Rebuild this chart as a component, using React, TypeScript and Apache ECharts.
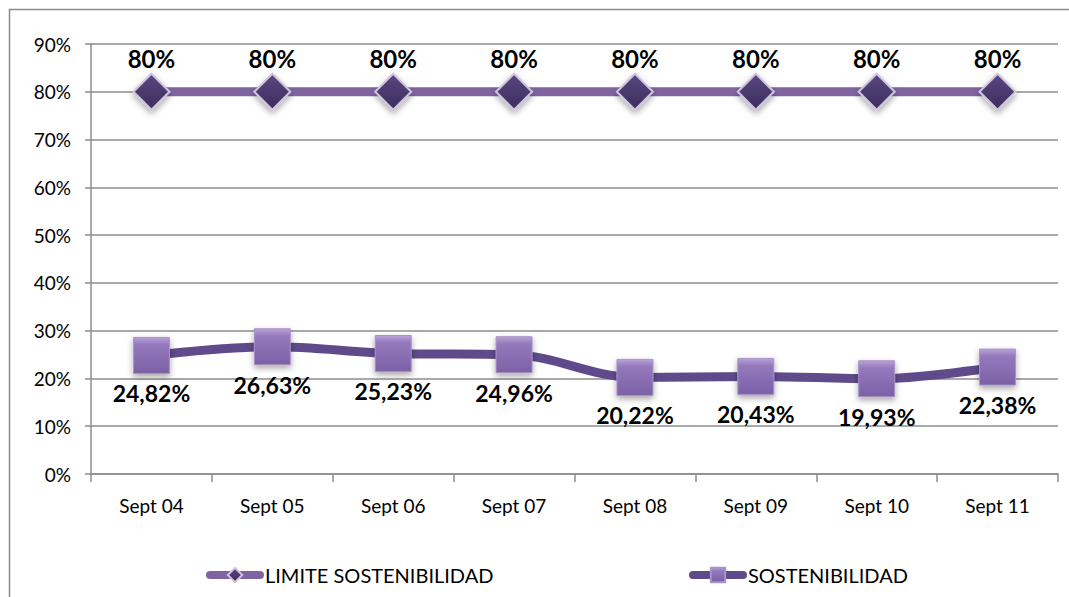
import React, { useEffect, useRef } from "react";
import * as echarts from "echarts";

const categories = ["Sept 04", "Sept 05", "Sept 06", "Sept 07", "Sept 08", "Sept 09", "Sept 10", "Sept 11"];
const limiteValues = [80, 80, 80, 80, 80, 80, 80, 80];
const sostenibilidadValues = [24.82, 26.63, 25.23, 24.96, 20.22, 20.43, 19.93, 22.38];
const yTicks = [0, 10, 20, 30, 40, 50, 60, 70, 80, 90];

const FONT = "Lato, 'Open Sans', sans-serif";

const fmt = (v: number) => {
  const s = Number.isInteger(v) ? String(v) : v.toFixed(2).replace(".", ",");
  return s + "%";
};

export default function App() {
  const ref = useRef<HTMLDivElement>(null);
  useEffect(() => {
    if (!ref.current) return;
    const chart = echarts.init(ref.current, undefined, { renderer: "svg" });
    chart.setOption({
      animation: false,
      backgroundColor: "#ffffff",
      graphic: [
        {
          type: "rect",
          shape: { x: 9.5, y: 9.5, width: 1200, height: 800 },
          style: { fill: "none", stroke: "#8c8c8c", lineWidth: 1.5 },
          silent: true,
          z: -10,
        },
      ],
      grid: { left: 91, right: 11, top: 44, bottom: 123, containLabel: false },
      xAxis: {
        type: "category",
        data: categories,
        boundaryGap: true,
        axisLine: { show: true, lineStyle: { color: "#8c8c8c", width: 1.5 } },
        axisTick: { show: true, length: 8, alignWithLabel: false, lineStyle: { color: "#8c8c8c", width: 1.5 } },
        axisLabel: { color: "#000", fontSize: 19, fontFamily: FONT, margin: 22 },
      },
      yAxis: {
        type: "value",
        min: yTicks[0],
        max: yTicks[yTicks.length - 1],
        interval: 10,
        axisLine: { show: true, lineStyle: { color: "#8c8c8c", width: 1.5 } },
        axisTick: { show: true, length: 6, inside: false, lineStyle: { color: "#8c8c8c", width: 1.5 } },
        axisLabel: { color: "#000", fontSize: 19, fontFamily: FONT, margin: 20, formatter: "{value}%" },
        splitLine: { show: true, lineStyle: { color: "#8c8c8c", width: 1.5 } },
      },
      legend: [
        {
          data: ["LIMITE SOSTENIBILIDAD"],
          left: 201,
          top: 560,
          itemWidth: 50,
          itemHeight: 18,
          itemGap: 4,
          lineStyle: { width: 8, cap: "round" },
          textStyle: { color: "#000", fontSize: 20, fontFamily: FONT },
        },
        {
          data: ["SOSTENIBILIDAD"],
          left: 684,
          top: 560,
          itemWidth: 50,
          itemHeight: 18,
          itemGap: 4,
          lineStyle: { width: 8, cap: "round" },
          textStyle: { color: "#000", fontSize: 20, fontFamily: FONT },
        },
      ],
      series: [
        {
          name: "LIMITE SOSTENIBILIDAD",
          type: "line",
          data: limiteValues,
          symbol: "diamond",
          symbolSize: 36,
          lineStyle: { color: "#8064A2", width: 9 },
          itemStyle: {
            color: {
              type: "linear", x: 0, y: 0, x2: 0, y2: 1,
              colorStops: [
                { offset: 0, color: "#5a4680" },
                { offset: 1, color: "#3d2d5c" },
              ],
            },
            borderColor: "#cfc4de",
            borderWidth: 2,
            shadowColor: "rgba(0,0,0,0.35)",
            shadowBlur: 6,
            shadowOffsetY: 3,
          },
          label: {
            show: true,
            position: "top",
            distance: 2,
            color: "#000",
            fontWeight: "bold",
            fontSize: 24,
            fontFamily: FONT,
            formatter: (p: any) => fmt(p.value),
          },
          z: 3,
        },
        {
          name: "SOSTENIBILIDAD",
          type: "line",
          data: sostenibilidadValues,
          smooth: 0.35,
          symbol: "rect",
          symbolSize: 36,
          lineStyle: { color: "#5F4B8B", width: 9 },
          itemStyle: {
            color: {
              type: "linear", x: 0, y: 0, x2: 0, y2: 1,
              colorStops: [
                { offset: 0, color: "#b9a3d8" },
                { offset: 0.2, color: "#9479bd" },
                { offset: 1, color: "#7b60a6" },
              ],
            },
            borderColor: "#a993c9",
            borderWidth: 1,
            shadowColor: "rgba(0,0,0,0.35)",
            shadowBlur: 6,
            shadowOffsetY: 3,
          },
          label: {
            show: true,
            position: "bottom",
            distance: 8,
            color: "#000",
            fontWeight: "bold",
            fontSize: 23,
            fontFamily: FONT,
            formatter: (p: any) => fmt(p.value),
          },
          z: 4,
        },
      ],
    });
    return () => chart.dispose();
  }, []);
  return <div ref={ref} style={{ width: 1069, height: 597, position: "absolute", left: 0, top: 0 }} />;
}
